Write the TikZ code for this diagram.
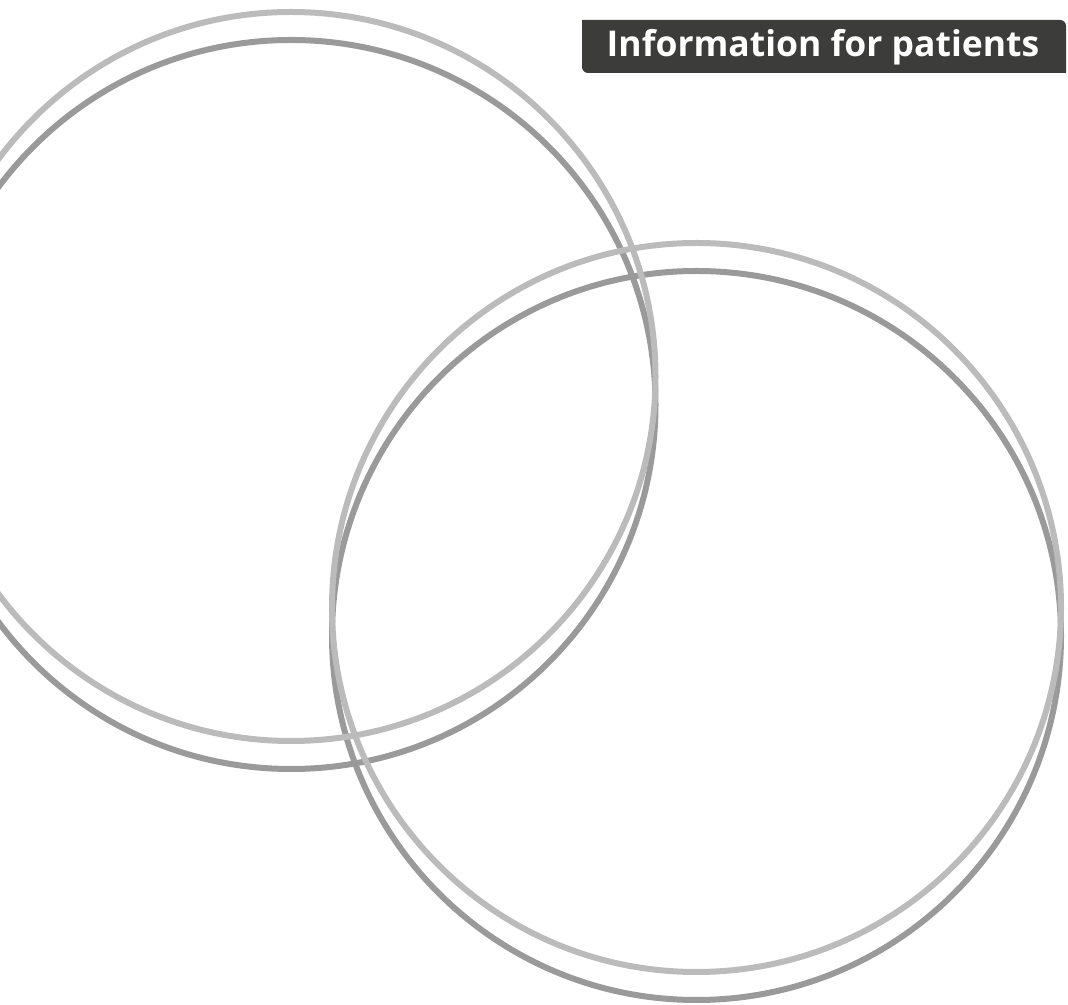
\documentclass[tikz,border=0pt]{standalone}
\usepackage{fontspec}
\setmainfont{Open Sans}
\definecolor{ringlight}{HTML}{BBBBBB}
\definecolor{ringdark}{HTML}{9A9A9A}
\definecolor{boxgrey}{HTML}{3C3C3A}
\begin{document}
\begin{tikzpicture}[x=1pt,y=1pt]
\useasboundingbox (0,0) rectangle (1068,1004);
\def\ring#1#2#3{
\draw[#3, line width=6pt] (#1,#2) circle[radius=364.5];
}
\ring{291}{599.5}{ringdark}
\ring{696.5}{368.5}{ringdark}
\ring{291}{627.5}{ringlight}
\ring{696.5}{396.5}{ringlight}
\fill[boxgrey] (582,984) -- (1060,984) arc[start angle=90, end angle=0, radius=6] -- (1066,931) -- (588,931) arc[start angle=270, end angle=180, radius=6] -- cycle;
\node[anchor=base, text=white, font=\bfseries\fontsize{35.5}{40}\selectfont, inner sep=0pt] (title) at (823,947) {Information for patients};
\end{tikzpicture}
\end{document}
